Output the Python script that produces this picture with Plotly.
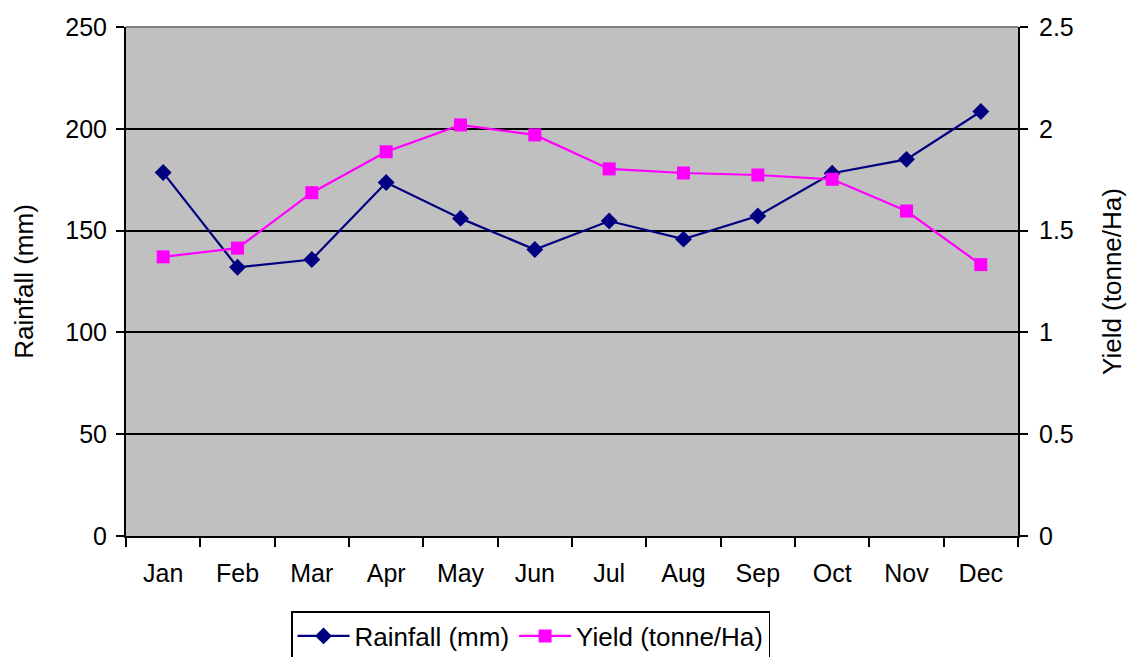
import plotly.graph_objects as go

# Monthly rainfall and crop yield
months = ["Jan", "Feb", "Mar", "Apr", "May", "Jun",
          "Jul", "Aug", "Sep", "Oct", "Nov", "Dec"]
rainfall_mm = [178.5, 132.0, 135.8, 173.6, 156.0, 140.7,
               154.7, 145.8, 157.2, 178.2, 185.0, 208.5]
yield_t_ha = [1.371, 1.414, 1.686, 1.887, 2.019, 1.970,
              1.803, 1.783, 1.773, 1.752, 1.596, 1.333]

rain_ticks = [0, 50, 100, 150, 200, 250]
yield_ticks = [0, 0.5, 1, 1.5, 2, 2.5]

FONT = "Liberation Sans, Arial, sans-serif"
FS_TICK = 25
FS_TEXT = 26

fig = go.Figure()
fig.add_trace(go.Scatter(
    x=months, y=rainfall_mm, name="Rainfall (mm)", mode="lines+markers",
    line=dict(color="#000080", width=2.2),
    marker=dict(symbol="diamond", size=13, color="#000080"),
    yaxis="y",
))
fig.add_trace(go.Scatter(
    x=months, y=yield_t_ha, name="Yield (tonne/Ha)", mode="lines+markers",
    line=dict(color="#FF00FF", width=2.2),
    marker=dict(symbol="square", size=13, color="#FF00FF"),
    yaxis="y2",
))

fig.update_layout(
    width=1129, height=657,
    margin=dict(l=126, r=111, t=27, b=121, autoexpand=False),
    paper_bgcolor="white",
    plot_bgcolor="#C0C0C0",
    font=dict(family=FONT, size=FS_TICK, color="black"),
    showlegend=True,
    legend=dict(
        orientation="h",
        xref="container", x=291 / 1129, xanchor="left",
        yref="container", y=1 - 611 / 657, yanchor="top",
        bordercolor="black", borderwidth=1.5,
        bgcolor="white",
        font=dict(family=FONT, size=FS_TEXT, color="black"),
        itemwidth=52,
        tracegroupgap=0,
    ),
    xaxis=dict(
        type="category",
        categoryorder="array", categoryarray=months,
        range=[-0.5, 11.5],
        tickson="boundaries",
        ticks="outside", ticklen=9, tickwidth=2, tickcolor="black",
        ticklabelstandoff=14,
        showline=True, linecolor="black", linewidth=2,
        showgrid=False, zeroline=False,
        tickfont=dict(family=FONT, size=FS_TICK),
        fixedrange=True,
    ),
    yaxis=dict(
        range=[0, 250],
        tickvals=rain_ticks,
        ticks="outside", ticklen=8, tickwidth=2, tickcolor="black",
        ticklabelstandoff=4,
        showline=True, linecolor="black", linewidth=2,
        showgrid=True, gridcolor="black", gridwidth=2,
        zeroline=False,
        title=dict(text="Rainfall (mm)", font=dict(family=FONT, size=FS_TEXT), standoff=24),
        tickfont=dict(family=FONT, size=FS_TICK),
        fixedrange=True,
    ),
    yaxis2=dict(
        overlaying="y", side="right",
        range=[0, 2.5],
        tickvals=yield_ticks,
        ticks="outside", ticklen=8, tickwidth=2, tickcolor="black",
        ticklabelstandoff=6,
        showline=True, linecolor="black", linewidth=2,
        showgrid=False, zeroline=False,
        title=dict(text="Yield (tonne/Ha)", font=dict(family=FONT, size=FS_TEXT), standoff=30),
        tickfont=dict(family=FONT, size=FS_TICK),
        fixedrange=True,
    ),
    shapes=[dict(
        type="line", xref="paper", yref="paper",
        x0=0, x1=1, y0=1, y1=1,
        line=dict(color="#808080", width=2),
    )],
)

fig.write_html("out.html")
